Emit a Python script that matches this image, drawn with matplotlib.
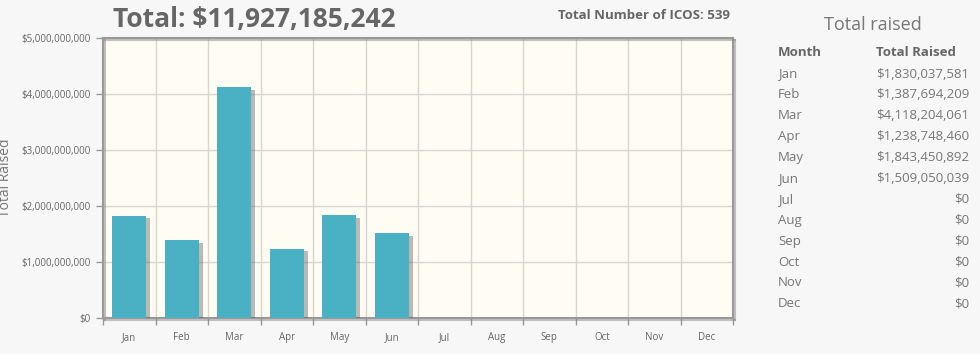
import matplotlib.pyplot as plt
import matplotlib.patheffects as pe
from matplotlib.ticker import FuncFormatter

months = ['Jan', 'Feb', 'Mar', 'Apr', 'May', 'Jun',
          'Jul', 'Aug', 'Sep', 'Oct', 'Nov', 'Dec']
raised = [1830037581, 1387694209, 4118204061, 1238748460, 1843450892, 1509050039,
          0, 0, 0, 0, 0, 0]
total_icos = 539

plt.rcParams['font.family'] = ['Open Sans', 'DejaVu Sans']

fig = plt.figure(figsize=(9.8, 3.54), dpi=100, facecolor='#f7f7f7')
ax = fig.add_axes([0.1051, 0.1017, 0.6429, 0.791])
ax.set_facecolor('#fffcf4')

x = list(range(len(months)))
shadow = [pe.SimplePatchShadow(offset=(3, -2), shadow_rgbFace='#555555', alpha=0.4), pe.Normal()]
ax.bar(x, raised, width=0.64, color='#4ab0c4', zorder=3, path_effects=shadow)

ax.set_xlim(-0.5, 11.5)
ax.set_ylim(0, 5e9)
ax.set_yticks([0, 1e9, 2e9, 3e9, 4e9, 5e9])
ax.yaxis.set_major_formatter(FuncFormatter(lambda v, p: '${:,.0f}'.format(v)))
ax.set_xticks(x)
ax.set_xticklabels(months)
ax.set_xticks([i - 0.5 for i in range(13)], minor=True)
ax.tick_params(axis='x', which='major', length=0, pad=10, labelsize=7, labelcolor='#666666')
ax.tick_params(axis='x', which='minor', length=5, width=1, color='#999999', direction='out')
ax.tick_params(axis='y', length=5, width=1, color='#999999', labelsize=7, labelcolor='#666666', pad=4)
ax.grid(True, which='minor', axis='x', color='#d9d6cf', linewidth=1, zorder=0)
ax.grid(True, which='major', axis='y', color='#d9d6cf', linewidth=1, zorder=0)
ax.grid(False, which='major', axis='x')
for s in ax.spines.values():
    s.set_color('#999999')
    s.set_linewidth(1.5)
    s.set_path_effects([pe.SimpleLineShadow(offset=(1.5, -1.5), shadow_color='#888888', alpha=0.5), pe.Normal()])

fig.text(0.006, 0.497, 'Total Raised', rotation=90, ha='center', va='center',
         fontsize=10, color='#777777')

fig.text(0.259, 0.945, 'Total: ${:,}'.format(sum(raised)), ha='center', va='center',
         fontsize=19, fontweight='bold', color='#666666')
fig.text(0.745, 0.955, 'Total Number of ICOS: {}'.format(total_icos), ha='right', va='center',
         fontsize=9.5, fontweight='bold', color='#666666')

# side table
fig.text(0.891, 0.928, 'Total raised', ha='center', va='center', fontsize=13, color='#777777')
fig.text(0.794, 0.851, 'Month', ha='left', va='center', fontsize=9.5, fontweight='bold', color='#666666')
fig.text(0.894, 0.851, 'Total Raised', ha='left', va='center', fontsize=9.5, fontweight='bold', color='#666666')
for i, (m, v) in enumerate(zip(months, raised)):
    yy = 1 - (74 + i * 20.9) / 354
    fig.text(0.794, yy, m, ha='left', va='center', fontsize=9.5, color='#777777')
    fig.text(0.989, yy, '${:,}'.format(v), ha='right', va='center', fontsize=9.5, color='#777777')

fig.savefig('out.png', dpi=100, facecolor=fig.get_facecolor())
